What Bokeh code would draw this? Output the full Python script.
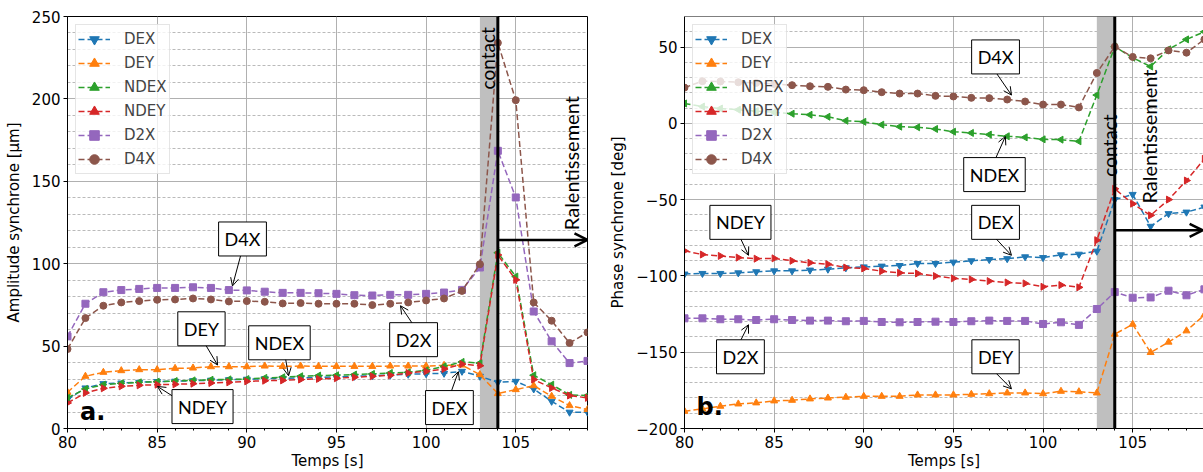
import math
from bokeh.plotting import figure
from bokeh.layouts import row
from bokeh.models import (Span, BoxAnnotation, Label, Arrow, OpenHead, Legend,
                          SingleIntervalTicker, Range1d)
from bokeh.embed import file_html
from bokeh.resources import INLINE

# ---------------- data ----------------
t = list(range(80, 110))

amp_DEX = [17.6, 24.6, 27.2, 27.6, 28.0, 28.5, 28.7, 29.0, 29.3, 29.6, 29.9, 30.2, 30.4,
           30.7, 31.0, 31.3, 31.7, 32.0, 32.4, 32.9, 33.2, 33.5, 34.7, 31.7, 28.0, 28.6,
           24.0, 16.5, 9.9, 9.9]
amp_DEY = [22.0, 31.7, 34.1, 35.1, 35.7, 35.7, 36.5, 36.7, 37.5, 37.5, 37.5, 37.9, 37.7,
           37.9, 37.7, 37.7, 37.7, 37.7, 37.9, 37.9, 37.9, 38.3, 38.5, 32.7, 21.2, 23.6,
           26.0, 19.6, 13.9, 11.5]
amp_NDEX = [18.6, 24.0, 26.6, 27.4, 28.0, 28.4, 28.8, 29.2, 29.6, 29.8, 30.0, 30.7, 31.1,
            31.7, 32.1, 32.3, 32.7, 33.1, 33.7, 34.1, 35.3, 37.7, 40.4, 39.7, 106.7, 92.2,
            32.3, 26.6, 20.4, 20.0]
amp_NDEY = [15.5, 21.6, 24.4, 25.6, 26.2, 26.6, 26.8, 27.2, 27.6, 28.0, 28.6, 29.0, 29.2,
            29.7, 30.1, 30.5, 31.1, 31.7, 32.3, 33.7, 34.7, 36.1, 39.1, 38.1, 105.3, 90.2,
            29.7, 24.6, 20.0, 18.6]
amp_D2X = [55.9, 75.7, 82.7, 84.0, 84.7, 85.3, 85.3, 85.7, 85.3, 84.0, 83.8, 83.0, 82.3,
           82.3, 82.1, 81.7, 80.9, 80.7, 81.1, 81.1, 81.7, 82.5, 84.1, 97.7, 168.5, 140.2,
           71.0, 52.9, 39.7, 41.0]
amp_D4X = [48.2, 67.0, 74.5, 76.5, 77.3, 78.1, 78.3, 78.9, 78.3, 77.1, 77.3, 76.9, 75.9,
           76.1, 75.7, 75.7, 75.7, 74.9, 75.7, 76.5, 77.7, 78.9, 83.5, 99.7, 234.0, 199.2,
           76.5, 65.4, 51.9, 58.3]

ph_DEX = [-98.8, -98.4, -98.4, -98.0, -97.3, -96.7, -96.7, -96.2, -95.6, -94.7, -94.1,
          -93.6, -93.2, -91.9, -91.9, -91.0, -90.1, -89.3, -88.7, -87.5, -88.0, -86.2,
          -85.8, -83.8, -50.0, -46.6, -67.5, -59.2, -58.2, -54.9]
ph_DEY = [-188.7, -187.2, -185.4, -183.9, -183.2, -181.9, -181.5, -180.6, -180.0, -179.5,
          -178.9, -178.9, -178.9, -178.0, -178.0, -178.0, -177.6, -177.2, -176.7, -176.7,
          -177.2, -175.6, -175.9, -176.7, -138.2, -131.7, -150.2, -143.4, -136.0, -125.6]
ph_NDEX = [13.0, 11.0, 9.7, 8.9, 8.0, 7.2, 6.3, 5.6, 4.3, 1.7, 1.0, -0.9, -2.2, -2.6,
           -3.7, -5.5, -6.3, -7.4, -8.5, -9.2, -10.5, -10.7, -11.8, 18.5, 50.2, 43.0,
           37.2, 48.5, 55.0, 60.0]
ph_NDEY = [-83.6, -86.0, -86.9, -88.0, -88.7, -88.5, -90.1, -91.4, -92.3, -94.5, -95.1,
           -96.9, -98.0, -98.4, -100.1, -101.6, -102.3, -103.4, -104.3, -104.9, -107.1,
           -106.0, -107.5, -76.6, -42.9, -52.7, -60.3, -50.0, -37.5, -23.3]
ph_D2X = [-127.8, -127.8, -128.4, -128.4, -128.9, -128.4, -128.9, -129.3, -129.3, -129.7,
          -129.5, -130.2, -130.4, -130.2, -130.0, -130.2, -129.7, -129.3, -129.5, -129.5,
          -131.5, -130.4, -132.1, -121.7, -110.6, -114.3, -114.1, -109.7, -112.7, -108.8]
ph_D4X = [23.4, 27.6, 27.4, 26.9, 26.5, 25.8, 25.0, 24.3, 23.9, 22.1, 21.7, 20.4, 19.5,
          19.5, 18.0, 17.6, 16.7, 16.5, 15.6, 14.3, 12.3, 12.3, 10.4, 33.0, 50.2, 43.5,
          42.6, 47.8, 46.3, 55.0]

names = ["DEX", "DEY", "NDEX", "NDEY", "D2X", "D4X"]
colors = ["#1f77b4", "#ff7f0e", "#2ca02c", "#d62728", "#9467bd", "#8c564b"]
markers = [("inverted_triangle", 0.0), ("triangle", 0.0), ("triangle", math.pi / 2),
           ("triangle", -math.pi / 2), ("square", 0.0), ("circle", 0.0)]

amp_series = [amp_DEX, amp_DEY, amp_NDEX, amp_NDEY, amp_D2X, amp_D4X]
ph_series = [ph_DEX, ph_DEY, ph_NDEX, ph_NDEY, ph_D2X, ph_D4X]

TICK_FONT = "DejaVu Sans"
ANN_FONT = "Lato"


def make_fig(width, x_end, y_start, y_end, ylabel, min_left, min_right, outline=True):
    p = figure(width=width, height=472, output_backend="svg", toolbar_location=None,
               x_range=Range1d(80, x_end), y_range=Range1d(y_start, y_end),
               min_border_left=min_left, min_border_right=min_right,
               min_border_top=16, min_border_bottom=43)
    p.outline_line_color = "black" if outline else None
    p.outline_line_width = 1
    p.xaxis.ticker = SingleIntervalTicker(interval=5, num_minor_ticks=5)
    p.yaxis.ticker = SingleIntervalTicker(interval=50, num_minor_ticks=5)
    for ax in (p.xaxis[0], p.yaxis[0]):
        ax.major_label_text_font = TICK_FONT
        ax.major_label_text_font_size = "15px"
        ax.major_label_text_color = "black"
        ax.axis_label_text_font = TICK_FONT
        ax.axis_label_text_font_size = "15px"
        ax.axis_label_text_font_style = "normal"
        ax.axis_label_text_color = "black"
        ax.axis_line_color = "black"
        ax.major_tick_line_color = "black"
        ax.major_tick_out = 4
        ax.major_tick_in = 0
        ax.major_label_standoff = 3
    p.xaxis.minor_tick_line_color = "black"
    p.xaxis.minor_tick_out = 2
    p.xaxis.minor_tick_in = 0
    p.yaxis.minor_tick_line_color = None
    p.xaxis.axis_label = "Temps [s]"
    p.xaxis.axis_label_standoff = 1
    p.yaxis.axis_label = ylabel
    p.yaxis.axis_label_standoff = 6
    p.xgrid.grid_line_color = "#b0b0b0"
    p.ygrid.grid_line_color = "#b0b0b0"
    p.ygrid.minor_grid_line_color = "#a8a8a8"
    p.ygrid.minor_grid_line_dash = "3 2"
    p.ygrid.minor_grid_line_width = 0.8
    p.background_fill_color = "white"
    p.border_fill_color = "white"
    return p


def draw_series(p, series):
    items = []
    for name, col, (mk, ang), ys in zip(names, colors, markers, series):
        l = p.line(t, ys, line_color=col, line_dash="6 3", line_width=1.5)
        s = p.scatter(t, ys, marker=mk, angle=ang, size=7, fill_color=col, line_color=col)
        items.append((name, [l, s]))
    leg = Legend(items=items, location="top_left", margin=8, padding=2,
                 spacing=0, label_height=24, glyph_height=24, glyph_width=32,
                 label_standoff=14, label_text_font=TICK_FONT,
                 label_text_font_size="15px", background_fill_alpha=0.8,
                 border_line_color="#cccccc", border_line_width=1)
    p.add_layout(leg)


def contact(p, label_xy, ralent_xy, arrow_y, arrow_end):
    p.add_layout(BoxAnnotation(left=103, right=104, fill_color="#bfbfbf",
                               fill_alpha=1.0, line_color=None, level="underlay"))
    p.add_layout(Span(location=104, dimension="height", line_color="black", line_width=3))
    p.add_layout(Arrow(end=OpenHead(size=13, line_width=2.5, line_color="black"),
                       x_start=104, y_start=arrow_y, x_end=arrow_end, y_end=arrow_y,
                       line_width=2.5, line_color="black"))
    p.add_layout(Label(x=label_xy[0], y=label_xy[1], text="contact", angle=math.pi / 2,
                       text_align="center", text_baseline="middle",
                       text_font=ANN_FONT, text_font_size="19px", text_color="black"))
    p.add_layout(Label(x=ralent_xy[0], y=ralent_xy[1], text="Ralentissement",
                       angle=math.pi / 2, text_align="center", text_baseline="middle",
                       text_font=ANN_FONT, text_font_size="20px", text_color="black"))


def boxed(p, text, cx, cy, sx, sy, ex, ey):
    p.add_layout(Arrow(end=OpenHead(size=8, line_width=1, line_color="black"),
                       x_start=sx, y_start=sy, x_end=ex, y_end=ey,
                       line_width=1, line_color="black"))
    p.add_layout(Label(x=cx, y=cy, text=text, text_align="center", text_baseline="middle",
                       text_font=ANN_FONT, text_font_size="18px", text_color="black",
                       background_fill_color="white", border_line_color="black",
                       border_line_width=1, padding=6))


# ---------------- left panel ----------------
p1 = make_fig(597, 109, 0, 250, "Amplitude synchrone [µm]", 67, 10)
contact(p1, (103.4, 224.6), (108.1, 161), 114.4, 109)
draw_series(p1, amp_series)
boxed(p1, "D4X", 89.76, 115, 89.65, 104.7, 89.2, 86.5)
boxed(p1, "DEY", 87.47, 60.5, 87.7, 50.8, 88.37, 38.5)
boxed(p1, "NDEX", 91.82, 52, 92.16, 42.4, 92.33, 32.0)
boxed(p1, "NDEY", 87.53, 13.3, 85.9, 19.4, 85.02, 25.5)
boxed(p1, "D2X", 99.3, 53.9, 99.24, 63.6, 98.57, 74.5)
boxed(p1, "DEX", 101.3, 12.7, 101.4, 22.4, 101.8, 34.5)
p1.add_layout(Label(x=81.4, y=10, text="a.", text_font=TICK_FONT, text_font_size="24px",
                    text_font_style="bold", text_align="center", text_baseline="middle",
                    text_color="black"))

# ---------------- right panel ----------------
p2 = make_fig(606, 108.95, -200, 70, "Phase synchrone [deg]", 87, 0, outline=False)
p2.add_layout(Span(location=70, dimension="width", line_color="black", line_width=1))
contact(p2, (103.7, -14.6), (105.9, -8.7), -70.1, 108.9)
draw_series(p2, ph_series)
boxed(p2, "D4X", 97.35, 43.5, 97.35, 33.7, 98.24, 18.5)
boxed(p2, "NDEX", 97.29, -33.6, 97.35, -23.1, 97.9, -8.6)
boxed(p2, "DEX", 97.35, -64.9, 97.35, -75.3, 98.24, -86.5)
boxed(p2, "NDEY", 83.12, -64.9, 83.12, -75.3, 83.57, -86.5)
boxed(p2, "D2X", 83.12, -153, 83.12, -142.6, 83.57, -132)
boxed(p2, "DEY", 97.35, -153, 97.35, -163.4, 98.24, -174.0)
p2.add_layout(Label(x=81.4, y=-186, text="b.", text_font=TICK_FONT, text_font_size="24px",
                    text_font_style="bold", text_align="center", text_baseline="middle",
                    text_color="black"))

layout = row(p1, p2)
open("out.html", "w").write(file_html(layout, INLINE))
